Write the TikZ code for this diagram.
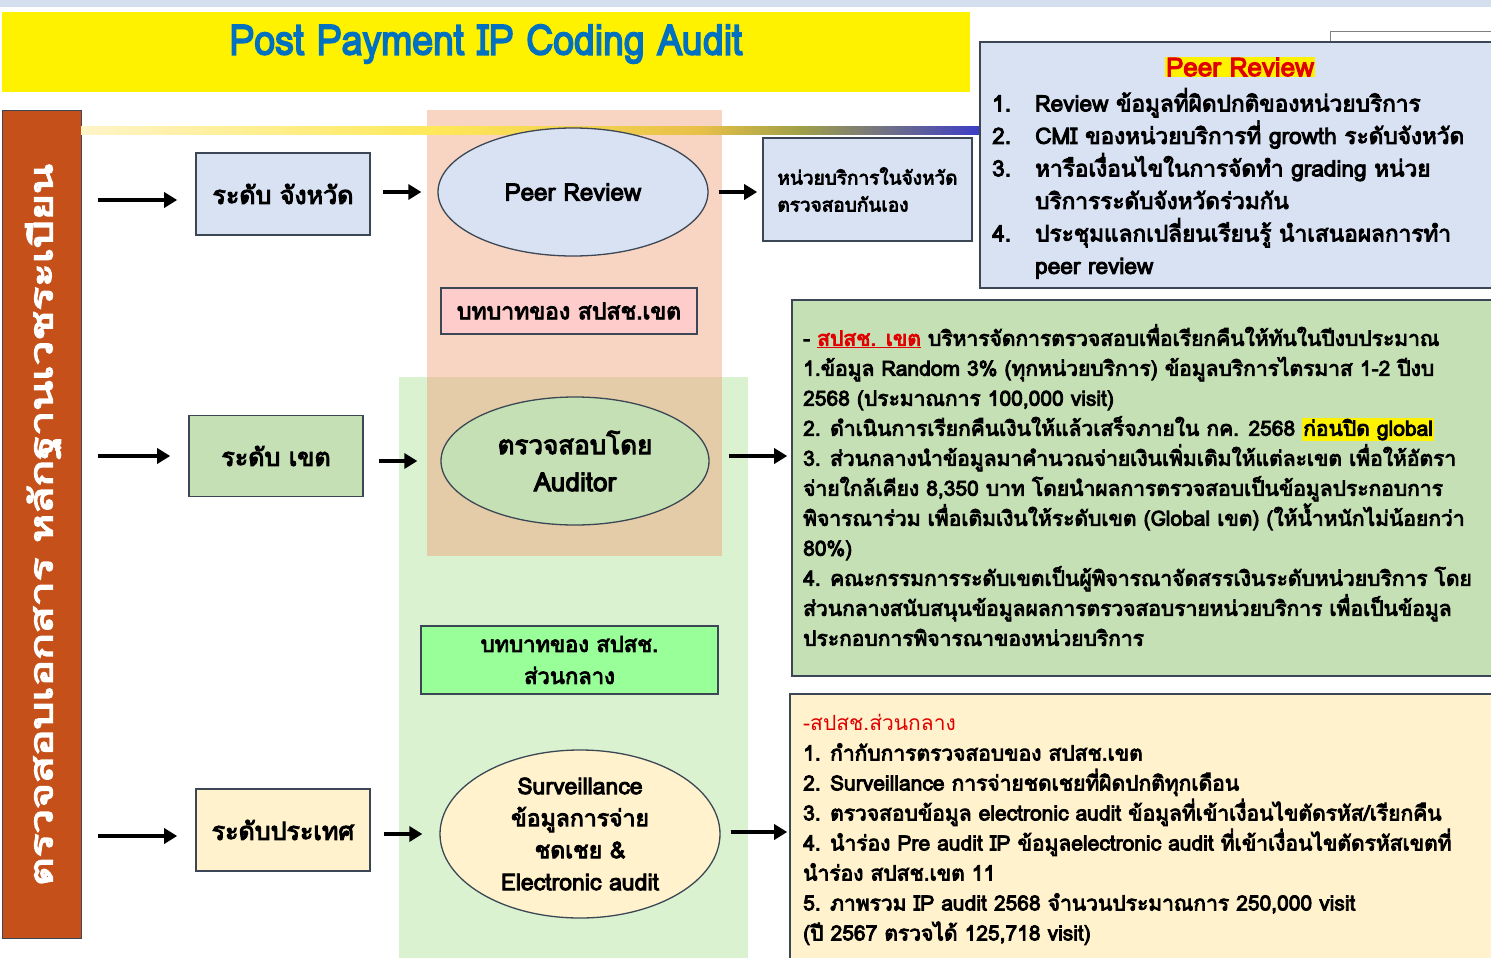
\documentclass[tikz,border=0pt]{standalone}
\usepackage{fontspec}
\newfontfamily\thaireg[Script=Thai]{Loma}
\newfontfamily\thai[Script=Thai, FakeBold=4]{Loma}
\usetikzlibrary{shapes.geometric,arrows.meta}
\definecolor{ttlblue}{HTML}{0070C0}
\definecolor{sidebrown}{HTML}{C5501A}
\definecolor{lblue}{HTML}{D9E2F3}
\definecolor{lgreen}{HTML}{C5E0B4}
\definecolor{lyell}{HTML}{FFF2CC}
\definecolor{salmon}{HTML}{F8D5C3}
\definecolor{pgreen}{HTML}{DAF2D0}
\definecolor{tanov}{HTML}{E3CCA7}
\definecolor{pinkb}{HTML}{FFCCCC}
\definecolor{bgreen}{HTML}{99FF99}
\definecolor{bord}{HTML}{3B4754}
\definecolor{strip}{HTML}{D3DEEE}
\definecolor{tred}{HTML}{E00000}
\definecolor{g1}{HTML}{FFF4C8}
\definecolor{g2}{HTML}{FFE95A}
\definecolor{g3}{HTML}{E8C048}
\definecolor{g4}{HTML}{A0A048}
\definecolor{g5}{HTML}{3C3CC8}
\tikzset{
 box/.style={draw=bord, line width=1.6pt, inner sep=0pt, align=center, font=\thai\fontsize{25}{30}\selectfont},
 ell/.style={ellipse, draw=bord, line width=1.3pt, inner sep=0pt, align=center},
 arr/.style={-{Triangle[length=13pt,width=15pt]}, line width=4pt, black},
 info/.style={draw=bord, line width=1.6pt, inner sep=0pt},
 body/.style={anchor=north west, align=left, inner sep=0pt, font=\thai\fontsize{21}{30}\selectfont},
}
\begin{document}
\begin{tikzpicture}[x=1pt,y=-1pt]
\useasboundingbox (0,0) rectangle (1491,958);
% top strip
\fill[strip] (0,0) rectangle (1491,7);
% title
\node[fill=yellow, minimum width=968pt, minimum height=80pt, inner sep=0pt] (tbar) at (486,52) {};
\node[font=\thai\fontsize{42}{44}\selectfont, text=ttlblue] (title) at (486,44) {\scalebox{0.89}[1]{Post Payment IP Coding Audit}};
% side bar
\node[draw=bord, fill=sidebrown, minimum width=79pt, minimum height=828pt, inner sep=0pt, line width=1pt] (side) at (41.5,524) {};
\node[rotate=90, text=white, font=\thai\fontsize{32}{34}\selectfont] (vt) at (43,525) {\scalebox{1.38}[1]{ตรวจสอบเอกสาร หลักฐานเวชระเบียน}};
% background panels
\fill[pgreen] (399,377) rectangle (748,958);
\fill[salmon] (427,110) rectangle (722,556);
\fill[tanov] (427,377) rectangle (722,556);
% gradient line
\shade[left color=g1, right color=g2] (81,126) rectangle (430,134);
\shade[left color=g2, right color=g3] (430,126) rectangle (700,134);
\shade[left color=g3, right color=g4] (700,126) rectangle (800,134);
\shade[left color=g4, right color=g5] (800,126) rectangle (982,134);
% hidden box top right
\draw[gray, line width=1pt, fill=white] (1330,32) rectangle (1495,44);
% Peer review info box
\node[info, fill=lblue, minimum width=515pt, minimum height=246pt] (prbox) at (1237.5,165) {};
\node[fill=yellow, text=tred, inner sep=1pt, font=\thai\fontsize{26}{30}\selectfont] (prtitle) at (1240,67) {Peer Review};
\node[anchor=north west, align=left, inner sep=0pt, font=\thai\fontsize{22.6}{32.5}\selectfont] (prlist) at (992,88) {%
\makebox[43pt][l]{1.}Review ข้อมูลที่ผิดปกติของหน่วยบริการ\\
\makebox[43pt][l]{2.}CMI ของหน่วยบริการที่ growth ระดับจังหวัด\\
\makebox[43pt][l]{3.}หารือเงื่อนไขในการจัดทำ grading หน่วย\\
\hspace*{43pt}บริการระดับจังหวัดร่วมกัน\\
\makebox[43pt][l]{4.}ประชุมแลกเปลี่ยนเรียนรู้ นำเสนอผลการทำ\\
\hspace*{43pt}peer review};
% row 1
\node[box, fill=lblue, minimum width=174pt, minimum height=82pt] (lv1) at (283,194) {ระดับ จังหวัด};
\node[ell, fill=lblue, minimum width=270pt, minimum height=128pt, font=\thai\fontsize{24}{28}\selectfont] (pr) at (573,192) {Peer Review};
\node[box, fill=lblue, minimum width=209pt, minimum height=103pt, align=left, font=\thai\fontsize{19}{27}\selectfont] (unit) at (867.5,189.5) {หน่วยบริการในจังหวัด\\ตรวจสอบกันเอง};
\node[box, fill=pinkb, minimum width=256pt, minimum height=46pt, font=\thai\fontsize{23}{28}\selectfont] (role1) at (569,311) {บทบาทของ สปสช.เขต};
% row 2
\node[box, fill=lgreen, minimum width=174pt, minimum height=81pt] (lv2) at (276,456) {ระดับ เขต};
\node[ell, fill=lgreen, minimum width=268pt, minimum height=128pt, font=\thai\fontsize{26}{37}\selectfont] (aud) at (575,461) {ตรวจสอบโดย\\Auditor};
\node[info, fill=lgreen, minimum width=703pt, minimum height=376pt] (gbox) at (1143.5,488) {};
\node[body] (gtext) at (803,324) {%
- \textcolor{tred}{\underline{สปสช. เขต}} บริหารจัดการตรวจสอบเพื่อเรียกคืนให้ทันในปีงบประมาณ\\
1.ข้อมูล Random 3\% (ทุกหน่วยบริการ) ข้อมูลบริการไตรมาส 1-2 ปีงบ\\
2568 (ประมาณการ 100,000 visit)\\
2. ดำเนินการเรียกคืนเงินให้แล้วเสร็จภายใน กค. 2568 {\fboxsep=1pt\colorbox{yellow}{ก่อนปิด global}}\\
3. ส่วนกลางนำข้อมูลมาคำนวณจ่ายเงินเพิ่มเติมให้แต่ละเขต เพื่อให้อัตรา\\
จ่ายใกล้เคียง 8,350 บาท โดยนำผลการตรวจสอบเป็นข้อมูลประกอบการ\\
พิจารณาร่วม เพื่อเติมเงินให้ระดับเขต (Global เขต) (ให้น้ำหนักไม่น้อยกว่า\\
80\%)\\
4. คณะกรรมการระดับเขตเป็นผู้พิจารณาจัดสรรเงินระดับหน่วยบริการ โดย\\
ส่วนกลางสนับสนุนข้อมูลผลการตรวจสอบรายหน่วยบริการ เพื่อเป็นข้อมูล\\
ประกอบการพิจารณาของหน่วยบริการ};
\node[box, fill=bgreen, minimum width=297pt, minimum height=68pt, font=\thai\fontsize{22}{32}\selectfont] (role2) at (569.5,660) {บทบาทของ สปสช.\\ส่วนกลาง};
% row 3
\node[box, fill=lyell, minimum width=174pt, minimum height=82pt] (lv3) at (283,830) {ระดับประเทศ};
\node[ell, fill=lyell, minimum width=280pt, minimum height=168pt, font=\thai\fontsize{23}{32}\selectfont] (sv) at (580,834) {Surveillance\\ข้อมูลการจ่าย\\ชดเชย \&\\Electronic audit};
\node[info, fill=lyell, minimum width=705pt, minimum height=268pt] (ybox) at (1142.5,828) {};
\node[body] (ytext) at (803,714) {%
\textcolor{tred}{\thaireg -สปสช.ส่วนกลาง}\\
1. กำกับการตรวจสอบของ สปสช.เขต\\
2. Surveillance การจ่ายชดเชยที่ผิดปกติทุกเดือน\\
3. ตรวจสอบข้อมูล electronic audit ข้อมูลที่เข้าเงื่อนไขตัดรหัส/เรียกคืน\\
4. นำร่อง Pre audit IP ข้อมูลelectronic audit ที่เข้าเงื่อนไขตัดรหัสเขตที่\\
นำร่อง สปสช.เขต 11\\
5. ภาพรวม IP audit 2568 จำนวนประมาณการ 250,000 visit\\
(ปี 2567 ตรวจได้ 125,718 visit)};
% arrows
\coordinate (s1) at (98,200);
\coordinate (s2) at (98,456);
\coordinate (s3) at (98,836);
\draw[arr, shorten >=18pt] (s1) -- (s1 -| lv1.west);
\draw[arr, shorten >=18pt] (s2) -- (s2 -| lv2.west);
\draw[arr, shorten >=18pt] (s3) -- (s3 -| lv3.west);
\draw[arr, shorten <=12pt, shorten >=16pt] (lv1.east |- pr.west) -- (pr.west);
\draw[arr, shorten <=10pt, shorten >=5pt] (pr.east) -- (pr.east -| unit.west);
\draw[arr, shorten <=15pt, shorten >=23pt] (lv2.east |- aud.west) -- (aud.west);
\draw[arr, shorten <=19pt, shorten >=4pt] (aud.east |- 0,456) -- (gbox.west |- 0,456);
\draw[arr, shorten <=13pt, shorten >=17pt] (lv3.east |- sv.west) -- (sv.west);
\draw[arr, shorten <=10pt, shorten >=2pt] (sv.east |- 0,832) -- (ybox.west |- 0,832);
\end{tikzpicture}
\end{document}
